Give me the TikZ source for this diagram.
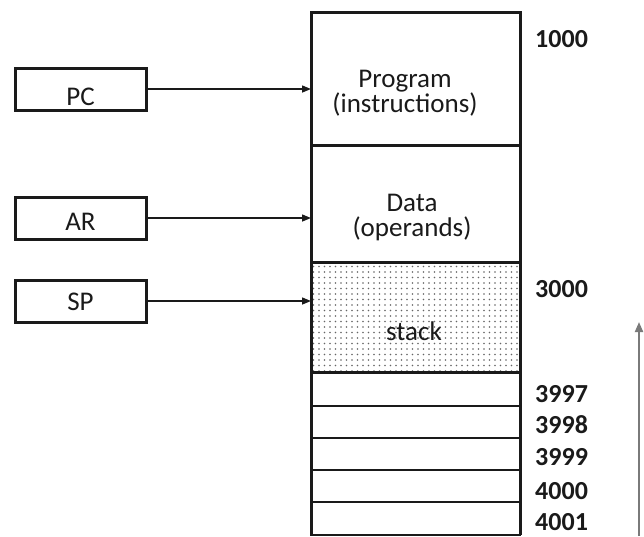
\documentclass[tikz,border=0pt]{standalone}
\usepackage{fontspec}
\setmainfont{Carlito}
\usetikzlibrary{arrows.meta, positioning, patterns.meta}
\definecolor{memLine}{HTML}{1A1A1A}
\definecolor{arrowGray}{HTML}{7A7A7A}
\definecolor{stackFill}{HTML}{EDEDED}
\tikzset{
  regbox/.style={rectangle, draw=memLine, line width=3pt, minimum width=131pt,
                 minimum height=42pt, inner sep=0pt},
  membox/.style={rectangle, draw=memLine, line width=3pt, minimum width=209pt,
                 inner sep=0pt, outer sep=0pt},
  cellbox/.style={rectangle, draw=memLine, line width=2pt, minimum width=209pt,
                  inner sep=0pt, outer sep=0pt},
  memtext/.style={align=center, font=\fontsize{27}{25}\selectfont, text=memLine, inner sep=0pt},
  addr/.style={anchor=base west, font=\bfseries\fontsize{26}{26}\selectfont,
               text=memLine, inner sep=0pt},
  arrowK/.style={-{Triangle[length=9pt, width=7pt]}, memLine, line width=1.4pt},
  arrowUp/.style={-{Triangle[length=10pt, width=8pt]}, arrowGray, line width=2pt},
}
\begin{document}
\begin{tikzpicture}[x=1pt, y=-1pt]
    \useasboundingbox (0,0) rectangle (644,536);
    % registers
    \node[regbox] (pc) at (80.5,89) {};
    \node[regbox, below=84pt of pc] (ar) {};
    \node[regbox, below=38pt of ar] (sp) {};
    \node[memtext, anchor=base] (pctxt) at (80.5,105) {PC};
    \node[memtext, anchor=base] (artxt) at (80.5,230) {AR};
    \node[memtext, anchor=base] (sptxt) at (80.5,310) {SP};
    % memory column
    \node[membox, minimum height=133pt] (prog) at (415.5,78.5) {};
    \node[membox, minimum height=117pt, below=0pt of prog] (data) {};
    \node[membox, minimum height=110pt, below=0pt of data, fill=stackFill,
          pattern={Dots[distance=5.5pt, radius=0.85pt]}, pattern color=black!60] (stack) {};
    \node[membox, minimum height=110pt, below=0pt of data] (stackedge) {};
    \node[cellbox, minimum height=34pt, below=0pt of stack] (c1) {};
    \node[cellbox, minimum height=32pt, below=0pt of c1] (c2) {};
    \node[cellbox, minimum height=32pt, below=0pt of c2] (c3) {};
    \node[cellbox, minimum height=32pt, below=0pt of c3] (c4) {};
    \node[cellbox, minimum height=33pt, below=0pt of c4] (c5) {};
    \draw[memLine, line width=3pt] (c1.north west) -- (c5.south west)
                                   (c1.north east) -- (c5.south east);
    \node[memtext] (progtxt) at (405,93) {Program\\(instructions)};
    \node[memtext] (datatxt) at (412,218) {Data\\(operands)};
    \node[memtext, anchor=base] (stacktxt) at (414,340) {stack};
    % addresses
    \node[addr] (a1000) at (535,47) {1000};
    \node[addr] (a3000) at (535,297) {3000};
    \node[addr] (a3997) at (535,402) {3997};
    \node[addr] (a3998) at (535,433) {3998};
    \node[addr] (a3999) at (535,465) {3999};
    \node[addr] (a4000) at (535,499) {4000};
    \node[addr] (a4001) at (535,530) {4001};
    % pointers
    \draw[arrowK] (pc.east) -- (pc.east -| prog.west);
    \draw[arrowK] (ar.east) -- (ar.east -| data.west);
    \draw[arrowK] (sp.east) -- (sp.east -| stack.west);
    \coordinate (upbot) at (639,536);
    \coordinate (uptop) at (639,322);
    \draw[arrowUp] (upbot) -- (uptop);
  \end{tikzpicture}
\end{document}
